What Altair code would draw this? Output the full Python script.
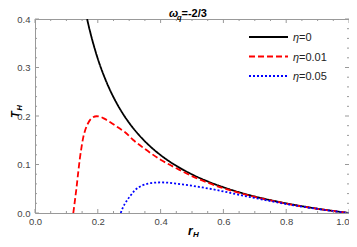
import altair as alt
import pandas as pd

# ---- data ----
names = ["η=0", "η=0.01", "η=0.05"]
colors = ["#000000", "#ff0000", "#0000ff"]

r_eta0 = [0.166, 0.17, 0.18, 0.19, 0.2, 0.22, 0.24, 0.26, 0.28, 0.3, 0.33, 0.36, 0.4, 0.45,
          0.5, 0.55, 0.6, 0.65, 0.7, 0.75, 0.8, 0.85, 0.9, 0.95, 1.0]
t_eta0 = [0.400, 0.3885, 0.3625, 0.3392, 0.318, 0.2821, 0.252, 0.2265, 0.2046, 0.1857, 0.1616,
          0.1415, 0.1194, 0.0973, 0.0796, 0.0651, 0.0531, 0.0428, 0.0341, 0.0265, 0.0199,
          0.0140, 0.0088, 0.0042, 0.0]

r_eta1 = [0.122, 0.127, 0.132, 0.137, 0.143, 0.148, 0.153, 0.16, 0.169, 0.18, 0.196, 0.21,
          0.222, 0.24, 0.254, 0.27, 0.286, 0.312, 0.35, 0.4, 0.46, 0.5, 0.55, 0.6, 0.65, 0.7,
          0.75, 0.8, 0.85, 0.9, 0.95, 1.0]
t_eta1 = [0.0, 0.025, 0.051, 0.08, 0.113, 0.135, 0.154, 0.171, 0.185, 0.195, 0.1995, 0.198,
          0.194, 0.187, 0.181, 0.174, 0.167, 0.151, 0.132, 0.110, 0.089, 0.076, 0.0625, 0.051,
          0.0415, 0.033, 0.0258, 0.0193, 0.0136, 0.0086, 0.0041, 0.0]

r_eta5 = [0.273, 0.279, 0.286, 0.294, 0.302, 0.317, 0.339, 0.36, 0.38, 0.402, 0.425, 0.444,
          0.47, 0.497, 0.53, 0.561, 0.6, 0.661, 0.7, 0.75, 0.8, 0.85, 0.9, 0.95, 1.0]
t_eta5 = [0.0, 0.010, 0.019, 0.027, 0.034, 0.046, 0.056, 0.0605, 0.0625, 0.063, 0.0625, 0.061,
          0.059, 0.0565, 0.053, 0.0495, 0.0445, 0.036, 0.031, 0.0245, 0.0185, 0.0132, 0.0083,
          0.004, 0.0]

x_major = [0.0, 0.2, 0.4, 0.6, 0.8, 1.0]
x_minor = [0.05, 0.1, 0.15, 0.25, 0.3, 0.35, 0.45, 0.5, 0.55, 0.65, 0.7, 0.75, 0.85, 0.9, 0.95]
y_major = [0.0, 0.1, 0.2, 0.3, 0.4]
y_minor = [0.02, 0.04, 0.06, 0.08, 0.12, 0.14, 0.16, 0.18, 0.22, 0.24, 0.26, 0.28,
           0.32, 0.34, 0.36, 0.38]

# ---- styling ----
W, H = 314, 194
FONT = "Liberation Sans"
FRAME = "#999999"
dashes = [[1, 0], [6, 3], [2, 2]]

rows = []
for nm, rs, ts in [(names[0], r_eta0, t_eta0), (names[1], r_eta1, t_eta1), (names[2], r_eta5, t_eta5)]:
    for a, b in zip(rs, ts):
        rows.append({"r": a, "T": b, "series": nm})
df = pd.DataFrame(rows)

xs = alt.Scale(domain=[0, 1], nice=False, zero=False)
ys = alt.Scale(domain=[0, 0.4], nice=False, zero=False)
ax_x = alt.Axis(values=x_major, format=".1f", tickSize=0, domain=False, grid=False,
                labelFontSize=9.5, labelColor="#444444", labelPadding=3, labelFont=FONT, title=None,
                labelAlign={"condition": {"test": "datum.value >= 1", "value": "right"}, "value": "center"})
ax_y = alt.Axis(values=y_major, format=".1f", tickSize=0, domain=False, grid=False,
                labelFontSize=9.5, labelColor="#444444", labelPadding=5, labelFont=FONT, title=None)

lines = alt.Chart(df).mark_line(strokeWidth=1.8, clip=True, interpolate="monotone", strokeCap="butt").encode(
    x=alt.X("r:Q", scale=xs, axis=ax_x),
    y=alt.Y("T:Q", scale=ys, axis=ax_y),
    color=alt.Color("series:N", scale=alt.Scale(domain=names, range=colors), legend=None),
    strokeDash=alt.StrokeDash("series:N", scale=alt.Scale(domain=names, range=dashes), legend=None),
)


def xticks(vals, length):
    d = pd.DataFrame({"v": vals})
    bot = alt.Chart(d).mark_rule(color=FRAME, strokeWidth=1).encode(
        x=alt.X("v:Q", scale=xs, axis=ax_x), y=alt.value(H), y2=alt.value(H - length))
    top = alt.Chart(d).mark_rule(color=FRAME, strokeWidth=1).encode(
        x=alt.X("v:Q", scale=xs, axis=ax_x), y=alt.value(0), y2=alt.value(length))
    return [bot, top]


def yticks(vals, length):
    d = pd.DataFrame({"v": vals})
    left = alt.Chart(d).mark_rule(color=FRAME, strokeWidth=1).encode(
        y=alt.Y("v:Q", scale=ys, axis=ax_y), x=alt.value(0), x2=alt.value(length))
    right = alt.Chart(d).mark_rule(color=FRAME, strokeWidth=1).encode(
        y=alt.Y("v:Q", scale=ys, axis=ax_y), x=alt.value(W), x2=alt.value(W - length))
    return [left, right]


def txt(s, x, y, size, style="normal", weight="normal", angle=0, color="#000000"):
    return alt.Chart(pd.DataFrame({"t": [s]})).mark_text(
        align="left", baseline="alphabetic", fontSize=size, fontStyle=style,
        fontWeight=weight, angle=angle, font=FONT, color=color
    ).encode(x=alt.value(x), y=alt.value(y), text="t:N")


layers = [lines]
layers += xticks(x_major, 4) + xticks(x_minor, 2) + yticks(y_major, 4) + yticks(y_minor, 2)

# title  ω_q=-2/3
layers += [txt("ω", 134, -2, 11, "italic", "bold"),
           txt("q", 142, 0.5, 7.5, "italic", "bold"),
           txt("=-2/3", 146.5, -2, 11, "normal", "bold")]
# axis titles
layers += [txt("r", 153, 216, 12, "italic", "bold"),
           txt("H", 158, 218, 8, "italic", "bold"),
           txt("T", -16.5, 99, 11, "italic", "bold", angle=270),
           txt("H", -13.5, 91.5, 7.5, "italic", "bold", angle=270)]

# legend
for i, nm in enumerate(names):
    yy = 18 + 19.5 * i
    leg = alt.Chart(pd.DataFrame({"s": [nm]})).mark_rule(
        color=colors[i], strokeWidth=2, strokeDash=dashes[i], strokeCap="butt").encode(
        x=alt.value(214), x2=alt.value(253), y=alt.value(yy))
    layers.append(leg)
    layers.append(txt("η", 258, yy + 4, 11, "italic", "normal", color="#222222"))
    layers.append(txt(nm[1:], 264, yy + 4, 11, "normal", "normal", color="#222222"))

chart = alt.layer(*layers).properties(
    width=W, height=H,
    padding={"left": 27, "top": 11, "right": 0, "bottom": 26},
    autosize=alt.AutoSizeParams(type="none"),
).configure_view(stroke=FRAME, strokeWidth=1)

chart.save("out.html", embed_options={"renderer": "svg", "actions": False})
